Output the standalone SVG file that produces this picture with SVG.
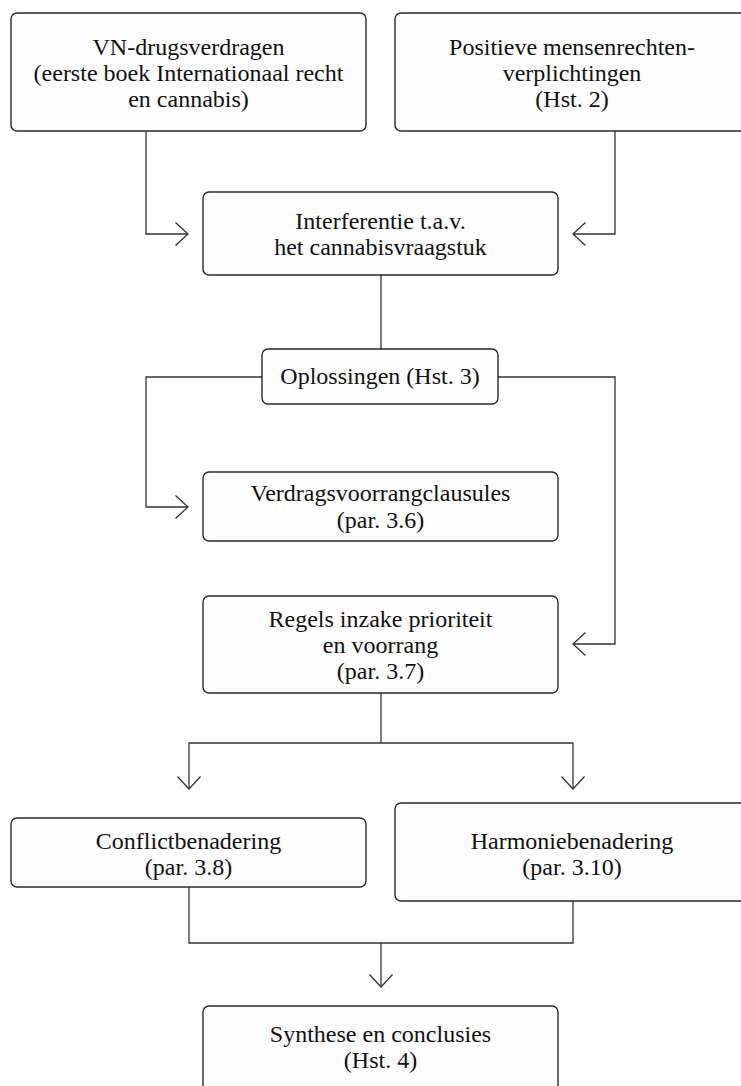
<svg xmlns="http://www.w3.org/2000/svg" width="741" height="1086" viewBox="0 0 741 1086">
<style>
.box{fill:#fdfdfd;stroke:#2a2a2a;stroke-width:1.4}
.lbl{font-family:"Liberation Serif","Times New Roman",serif;font-size:24px;fill:#111;text-anchor:middle}
.con{fill:none;stroke:#333;stroke-width:1.3}
</style>
<defs>
<marker id="arr" markerUnits="userSpaceOnUse" markerWidth="30" markerHeight="30" viewBox="-15 -15 30 30" refX="0" refY="0" orient="auto">
<path d="M-12.5,-11.5 L0,0 L-12.5,11.5" fill="none" stroke="#333" stroke-width="1.3"/>
</marker>
</defs>
<rect width="741" height="1086" fill="#ffffff"/>
<g id="connectors">
<path class="con" d="M146,131 V234 H188" marker-end="url(#arr)"/>
<path class="con" d="M615,131 V234 H573" marker-end="url(#arr)"/>
<path class="con" d="M381,275 V349"/>
<path class="con" d="M262,377 H146 V507 H188" marker-end="url(#arr)"/>
<path class="con" d="M498,377 H615 V644 H573" marker-end="url(#arr)"/>
<path class="con" d="M381,693 V743"/>
<path class="con" d="M381,743 H189 V789" marker-end="url(#arr)"/>
<path class="con" d="M381,743 H573 V789" marker-end="url(#arr)"/>
<path class="con" d="M189,887 V943 H573 V901"/>
<path class="con" d="M381,943 V987" marker-end="url(#arr)"/>
</g>
<g id="n-vn">
<rect class="box" x="11" y="13" width="355" height="118" rx="6"/>
<text class="lbl" x="188.5" y="55">VN-drugsverdragen</text>
<text class="lbl" x="188.5" y="81">(eerste boek Internationaal recht</text>
<text class="lbl" x="188.5" y="107">en cannabis)</text>
</g>
<g id="n-pos">
<rect class="box" x="395" y="13" width="354" height="118" rx="6"/>
<text class="lbl" x="572" y="55">Positieve mensenrechten-</text>
<text class="lbl" x="572" y="81">verplichtingen</text>
<text class="lbl" x="572" y="107">(Hst. 2)</text>
</g>
<g id="n-interf">
<rect class="box" x="203" y="192" width="355" height="83" rx="6"/>
<text class="lbl" x="380.5" y="229">Interferentie t.a.v.</text>
<text class="lbl" x="380.5" y="255">het cannabisvraagstuk</text>
</g>
<g id="n-opl">
<rect class="box" x="262" y="349" width="236" height="55" rx="6"/>
<text class="lbl" x="380" y="384">Oplossingen (Hst. 3)</text>
</g>
<g id="n-verdrag">
<rect class="box" x="203" y="472" width="355" height="69" rx="6"/>
<text class="lbl" x="380.5" y="501">Verdragsvoorrangclausules</text>
<text class="lbl" x="380.5" y="528">(par. 3.6)</text>
</g>
<g id="n-regels">
<rect class="box" x="203" y="596" width="355" height="97" rx="6"/>
<text class="lbl" x="380.5" y="627">Regels inzake prioriteit</text>
<text class="lbl" x="380.5" y="653">en voorrang</text>
<text class="lbl" x="380.5" y="679">(par. 3.7)</text>
</g>
<g id="n-conflict">
<rect class="box" x="11" y="818" width="355" height="69" rx="6"/>
<text class="lbl" x="188.5" y="849">Conflictbenadering</text>
<text class="lbl" x="188.5" y="875">(par. 3.8)</text>
</g>
<g id="n-harmonie">
<rect class="box" x="395" y="803" width="354" height="98" rx="6"/>
<text class="lbl" x="572" y="849">Harmoniebenadering</text>
<text class="lbl" x="572" y="875">(par. 3.10)</text>
</g>
<g id="n-synthese">
<rect class="box" x="203" y="1006" width="355" height="100" rx="6"/>
<text class="lbl" x="380.5" y="1042">Synthese en conclusies</text>
<text class="lbl" x="380.5" y="1068">(Hst. 4)</text>
</g>
</svg>
